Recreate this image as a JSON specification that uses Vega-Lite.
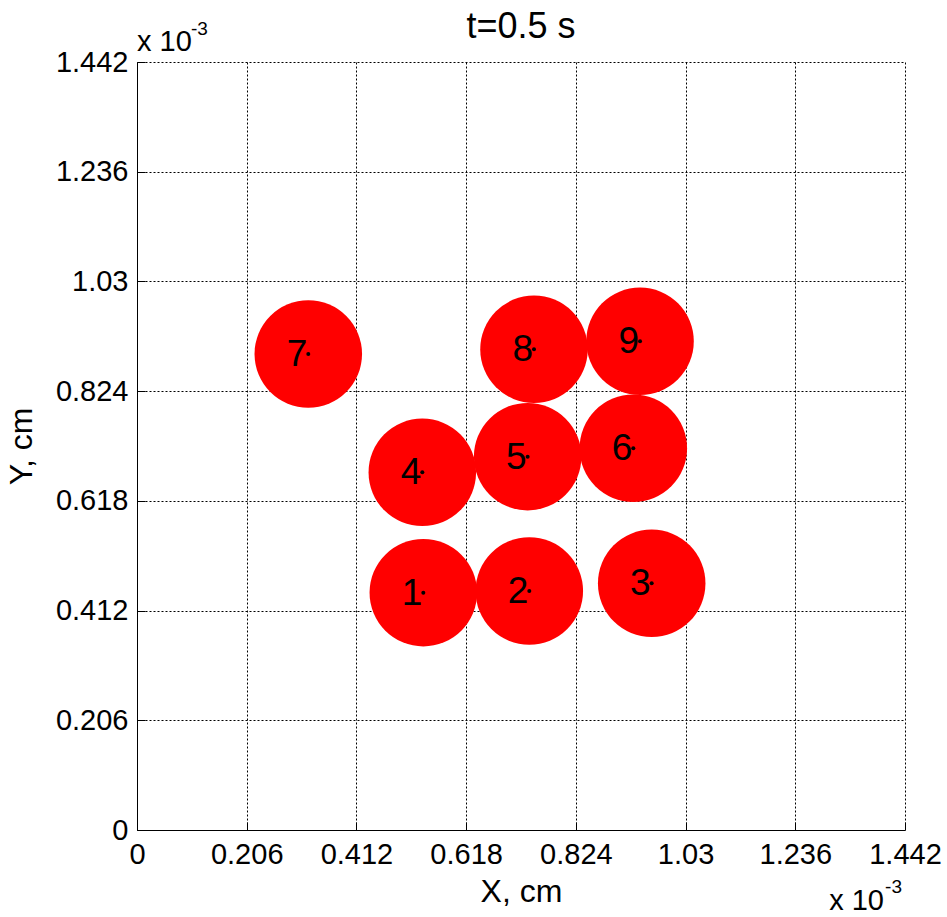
{
  "$schema": "https://vega.github.io/schema/vega-lite/v6.json",
  "autosize": {"type": "none"},
  "width": 768,
  "height": 768,
  "padding": {"left": 137, "top": 62, "right": 42, "bottom": 87},
  "background": "white",
  "config": {
    "view": {"stroke": null},
    "font": "Liberation Sans",
    "axis": {
      "domainColor": "black",
      "domainWidth": 1,
      "tickColor": "black",
      "tickSize": -8,
      "tickWidth": 1,
      "gridColor": "black",
      "gridOpacity": 1,
      "gridDash": [2, 2],
      "gridWidth": 1,
      "labelFont": "Liberation Sans",
      "labelFontSize": 29,
      "labelColor": "black",
      "titleFont": "Liberation Sans",
      "titleFontSize": 32,
      "titleFontWeight": "normal",
      "titleColor": "black"
    }
  },
  "datasets": {
    "particles": [
      {"id": "1", "x": 0.5376, "y": 0.4456},
      {"id": "2", "x": 0.7366, "y": 0.4488},
      {"id": "3", "x": 0.9664, "y": 0.4632},
      {"id": "4", "x": 0.5357, "y": 0.6716},
      {"id": "5", "x": 0.7335, "y": 0.7010},
      {"id": "6", "x": 0.9319, "y": 0.7167},
      {"id": "7", "x": 0.3216, "y": 0.8937},
      {"id": "8", "x": 0.7454, "y": 0.9026},
      {"id": "9", "x": 0.9445, "y": 0.9176}
    ]
  },
  "layer": [
    {
      "data": {"name": "particles"},
      "mark": {"type": "point", "shape": "circle", "filled": true, "size": 11560, "color": "#ff0000", "opacity": 1, "strokeWidth": 0},
      "encoding": {
        "x": {
          "field": "x",
          "type": "quantitative",
          "scale": {"domain": [0, 1.442], "nice": false, "zero": false},
          "axis": {
            "title": "X, cm",
            "values": [0, 0.206, 0.412, 0.618, 0.824, 1.03, 1.236, 1.442],
            "labelExpr": "format(datum.value, '~f')",
            "labelPadding": 18,
            "titlePadding": 7,
            "labelFlush": false,
            "labelOverlap": false
          }
        },
        "y": {
          "field": "y",
          "type": "quantitative",
          "scale": {"domain": [0, 1.442], "nice": false, "zero": false},
          "axis": {
            "title": "Y, cm",
            "values": [0, 0.206, 0.412, 0.618, 0.824, 1.03, 1.236, 1.442],
            "labelExpr": "format(datum.value, '~f')",
            "labelPadding": 17,
            "titlePadding": 17,
            "labelFlush": false,
            "labelOverlap": false
          }
        }
      }
    },
    {
      "data": {"name": "particles"},
      "mark": {"type": "point", "shape": "circle", "filled": true, "size": 16, "color": "black", "opacity": 1, "strokeWidth": 0},
      "encoding": {
        "x": {"field": "x", "type": "quantitative"},
        "y": {"field": "y", "type": "quantitative"}
      }
    },
    {
      "data": {"name": "particles"},
      "mark": {"type": "text", "align": "right", "baseline": "middle", "dx": -1, "dy": 1, "fontSize": 37, "font": "Liberation Sans", "color": "black"},
      "encoding": {
        "x": {"field": "x", "type": "quantitative"},
        "y": {"field": "y", "type": "quantitative"},
        "text": {"field": "id"}
      }
    },
    {
      "data": {"values": [{"label": "t=0.5 s"}]},
      "mark": {"type": "text", "align": "center", "baseline": "alphabetic", "dy": -24, "fontSize": 36, "font": "Liberation Sans", "fontWeight": "normal", "color": "black"},
      "encoding": {"text": {"field": "label"}, "x": {"datum": 0.721, "type": "quantitative"}, "y": {"datum": 1.442, "type": "quantitative"}}
    },
    {
      "data": {"values": [{"label": "x 10"}]},
      "mark": {"type": "text", "align": "left", "baseline": "alphabetic", "dx": 0, "dy": -11, "fontSize": 29, "font": "Liberation Sans", "fontWeight": "normal", "color": "black"},
      "encoding": {"text": {"field": "label"}, "x": {"datum": 0, "type": "quantitative"}, "y": {"datum": 1.442, "type": "quantitative"}}
    },
    {
      "data": {"values": [{"label": "-3"}]},
      "mark": {"type": "text", "align": "left", "baseline": "alphabetic", "dx": 54, "dy": -27, "fontSize": 19, "font": "Liberation Sans", "fontWeight": "normal", "color": "black"},
      "encoding": {"text": {"field": "label"}, "x": {"datum": 0, "type": "quantitative"}, "y": {"datum": 1.442, "type": "quantitative"}}
    },
    {
      "data": {"values": [{"label": "x 10"}]},
      "mark": {"type": "text", "align": "right", "baseline": "alphabetic", "dx": -21, "dy": 80, "fontSize": 29, "font": "Liberation Sans", "fontWeight": "normal", "color": "black"},
      "encoding": {"text": {"field": "label"}, "x": {"datum": 1.442, "type": "quantitative"}, "y": {"datum": 0, "type": "quantitative"}}
    },
    {
      "data": {"values": [{"label": "-3"}]},
      "mark": {"type": "text", "align": "right", "baseline": "alphabetic", "dx": -3, "dy": 63, "fontSize": 19, "font": "Liberation Sans", "fontWeight": "normal", "color": "black"},
      "encoding": {"text": {"field": "label"}, "x": {"datum": 1.442, "type": "quantitative"}, "y": {"datum": 0, "type": "quantitative"}}
    }
  ]
}
